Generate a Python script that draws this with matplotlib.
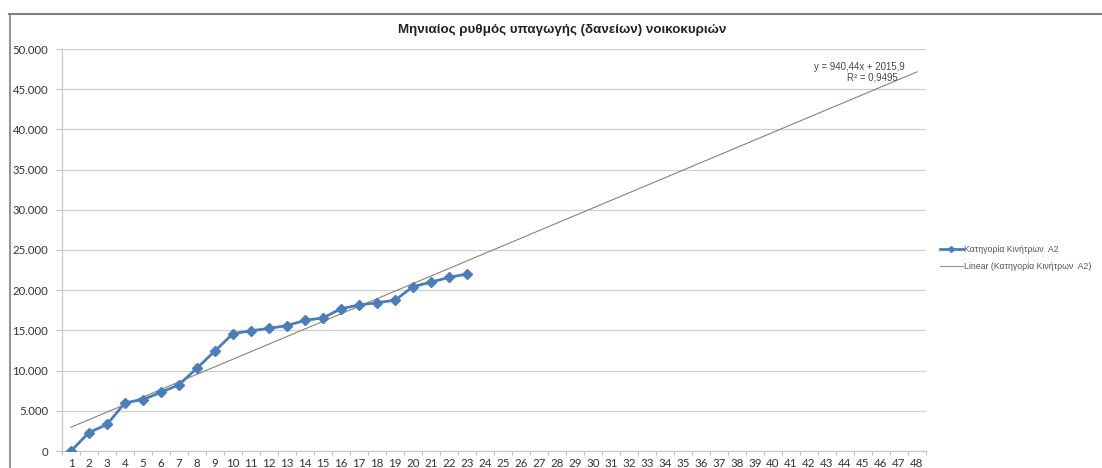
import matplotlib
matplotlib.use("Agg")
import matplotlib.pyplot as plt
from matplotlib.lines import Line2D
from matplotlib.ticker import FuncFormatter, FixedLocator
import numpy as np

# ---- data ----
months = list(range(1, 24))
values = [0, 2300, 3300, 6000, 6400, 7300, 8250, 10300, 12450, 14600, 14950,
          15250, 15600, 16250, 16550, 17700, 18150, 18450, 18750, 20450, 21000,
          21600, 22000]
category_ticks = list(range(1, 49))
trend_slope = 940.44
trend_intercept = 2015.9
r_squared = "0,9495"
title = "Μηνιαίος ρυθμός υπαγωγής (δανείων) νοικοκυριών"
series_name = "Κατηγορία Κινήτρων  Α2"
trend_name = "Linear (Κατηγορία Κινήτρων  Α2)"

W, H = 1102, 468
fig = plt.figure(figsize=(W / 100, H / 100), dpi=100)
fig.patch.set_facecolor("white")

ax = fig.add_axes([62 / W, 1 - 451 / H, (926 - 62) / W, (451 - 49) / H])

blue = "#4a7ebb"
trend_x = np.array([category_ticks[0], category_ticks[-1]], dtype=float)
trend_y = trend_slope * trend_x + trend_intercept
ax.plot(trend_x, trend_y, color="#8a8276", lw=0.8, zorder=2)
ax.plot(months, values, color=blue, lw=2.0, marker="D", ms=5.5,
        markeredgecolor=blue, zorder=3)

ax.set_xlim(0.5, 48.5)
ax.set_ylim(0, 50000)
ax.set_yticks(np.arange(0, 50001, 5000))
ax.yaxis.set_major_formatter(FuncFormatter(lambda v, p: f"{int(v):,}".replace(",", ".")))
ax.set_xticks(category_ticks)
ax.set_xticklabels([str(c) for c in category_ticks])
ax.xaxis.set_minor_locator(FixedLocator(np.arange(0.5, 49, 1)))
ax.tick_params(axis="x", which="major", length=0, pad=5, labelsize=8.3,
               labelcolor="#333333")
ax.tick_params(axis="x", which="minor", length=3, color="#bfbfbf", width=0.8)
ax.tick_params(axis="y", length=4, color="#bfbfbf", width=0.8, pad=6,
               labelsize=8.2, labelcolor="#333333")
for lab in ax.get_xticklabels() + ax.get_yticklabels():
    lab.set_family("Lato")

ax.grid(axis="y", color="#d0d0d0", lw=0.9)
ax.set_axisbelow(True)
for s in ["top", "right"]:
    ax.spines[s].set_visible(False)
for s in ["left", "bottom"]:
    ax.spines[s].set_color("#c8c8c8")
    ax.spines[s].set_linewidth(0.9)

# trendline equation
ax.text(905 / W, 1 - 67 / H, "y = 940,44x + 2015,9", transform=fig.transFigure,
        ha="right", va="center", fontsize=6.9, color="#444444",
        family="Liberation Sans")
ax.text(872 / W, 1 - 77 / H, f"R² = {r_squared}", transform=fig.transFigure,
        ha="center", va="center", fontsize=6.9, color="#444444",
        family="Liberation Sans")

# title
fig.text(562 / W, 1 - 30 / H, title, ha="center", va="center", fontsize=9.6,
         fontweight="bold", family="Liberation Sans", color="#222222")

# legend
handles = [Line2D([], [], color=blue, lw=2.0, marker="D", ms=3),
           Line2D([], [], color="#9a948a", lw=0.8)]
fig.legend(handles, [series_name, trend_name], loc="center left",
           bbox_to_anchor=(940 / W, 1 - 258 / H), frameon=False,
           prop={"family": "Liberation Sans", "size": 6.3}, handlelength=2.6,
           handletextpad=0.15, labelspacing=0.95, labelcolor="#555555",
           borderpad=0, borderaxespad=0)

# outer chart border (top and left visible)
fig.add_artist(Line2D([9 / W, 1.0], [1 - 13.5 / H, 1 - 13.5 / H],
                      transform=fig.transFigure, color="#808080", lw=1.5))
fig.add_artist(Line2D([9.5 / W, 9.5 / W], [0, 1 - 13.5 / H],
                      transform=fig.transFigure, color="#808080", lw=1.2))

fig.savefig("out.png", dpi=100, facecolor="white")
